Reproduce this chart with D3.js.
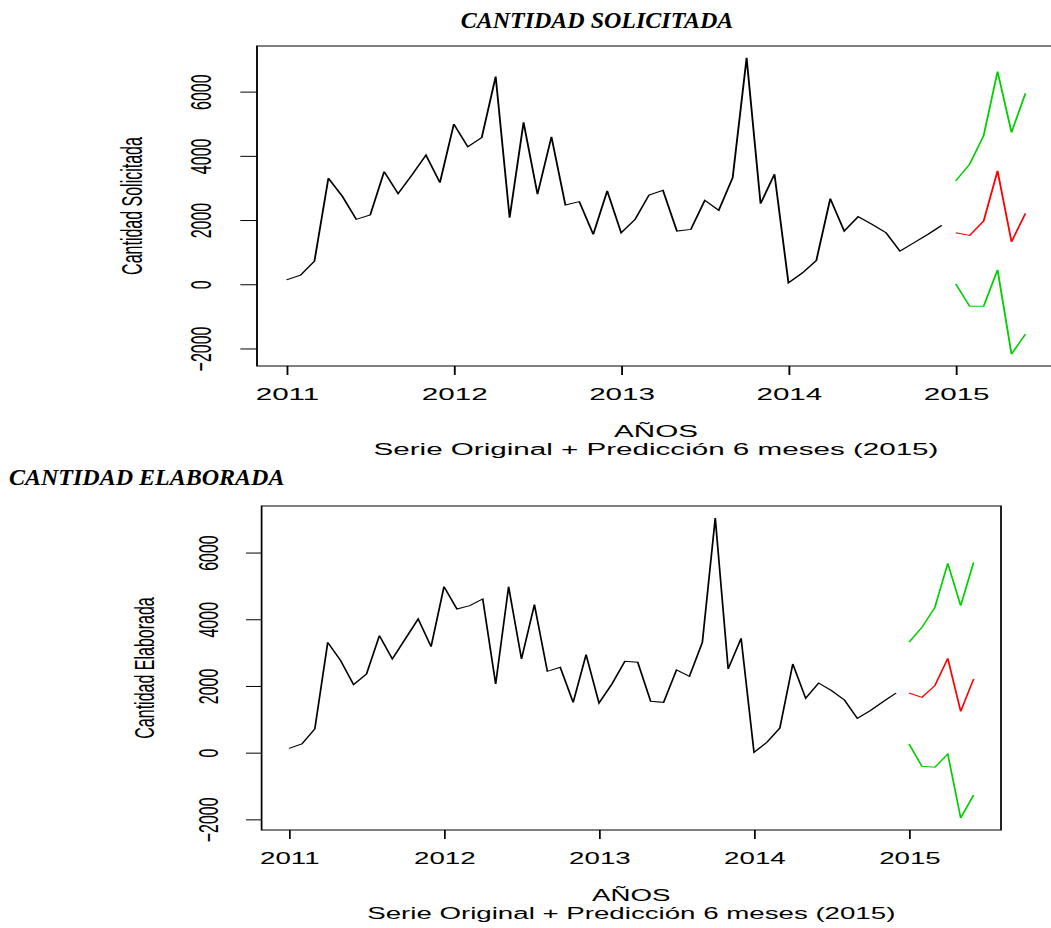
<!DOCTYPE html>
<html>
<head>
<meta charset="utf-8">
<script src="https://cdn.jsdelivr.net/npm/d3@7"></script>
<style>
  body { margin: 0; background: #fff; }
  svg { display: block; }
  .r text { font-family: Arial, "Liberation Sans", sans-serif; fill: #000; }
  .head { font-family: "Times New Roman", "Liberation Serif", serif; font-weight: bold; font-style: italic; font-size: 24px; }
</style>
</head>
<body>
<script>

// Monthly series Jan 2011 - Dec 2014, forecast Jan - Jun 2015
var solicitada = [135, 281, 719, 3302, 2740, 2021, 2156, 3510, 2823, 3406, 4020, 3167,
                  4990, 4281, 4573, 6469, 2073, 5042, 2802, 4594, 2469, 2573, 1552, 2906,
                  1604, 2021, 2781, 2927, 1656, 1708, 2615, 2302, 3323, 7052, 2510, 3427,
                  42, 354, 740, 2667, 1656, 2104, 1865, 1604, 1031, 1292, 1552, 1833];
var solicitadaPred = [1604, 1521, 1969, 3531, 1323, 2208],
    solicitadaUp   = [3219, 3740, 4625, 6625, 4729, 5948],
    solicitadaLow  = [10, -688, -688, 448, -2177, -1552];

var elaborada = [129, 260, 710, 3308, 2759, 2039, 2359, 3508, 2809, 3408, 4008, 3178,
                 4977, 4308, 4408, 4608, 2059, 4977, 2809, 4438, 2439, 2559, 1509, 2939,
                 1489, 2059, 2739, 2709, 1539, 1509, 2479, 2289, 3308, 7036, 2509, 3428,
                 10, 310, 740, 2659, 1629, 2089, 1859, 1579, 1029, 1259, 1529, 1789];
var elaboradaPred = [1789, 1659, 2009, 2829, 1239, 2209],
    elaboradaUp   = [3308, 3758, 4358, 5677, 4408, 5707],
    elaboradaLow  = [260, -409, -439, -40, -1959, -1269];

var startYear = 2011, predStart = 2015;
var yearTicks = [2011, 2012, 2013, 2014, 2015];
var yTicks = [-2000, 0, 2000, 4000, 6000];

var svg = d3.select('body').append('svg')
    .attr('width', 1051)
    .attr('height', 928);

// Word-style headings (not stretched)
svg.append('text').attr('class', 'head')
    .attr('x', 597).attr('y', 28).attr('text-anchor', 'middle')
    .text('CANTIDAD SOLICITADA');
svg.append('text').attr('class', 'head')
    .attr('x', 9).attr('y', 485)
    .text('CANTIDAD ELABORADA');

// One R-like plot; the original image is stretched horizontally by sx
function panel(o) {
    var sx = o.sx;
    var g = svg.append('g').attr('class', 'r')
        .attr('transform', 'scale(' + sx + ',1)');

    var t0 = startYear, t1 = predStart + (o.pred.length - 1) / 12;
    var tpad = (t1 - t0) * 0.04;
    var all = o.serie.concat(o.pred, o.up, o.low);
    var ext = d3.extent(all), ypad = (ext[1] - ext[0]) * 0.04;

    var x = d3.scaleLinear().domain([t0 - tpad, t1 + tpad]).range([o.left / sx, o.right / sx]);
    var y = d3.scaleLinear().domain([ext[0] - ypad, ext[1] + ypad]).range([o.bottom, o.top]);

    var line = function(start) {
        return d3.line()
            .x(function(d, i) { return x(start + i / 12); })
            .y(function(d) { return y(d); });
    };

    g.append('path').datum(o.serie).attr('d', line(startYear))
        .attr('fill', 'none').attr('stroke', '#000').attr('stroke-width', 1);
    g.append('path').datum(o.pred).attr('d', line(predStart))
        .attr('fill', 'none').attr('stroke', '#ff0000').attr('stroke-width', 1);
    [o.up, o.low].forEach(function(s) {
        g.append('path').datum(s).attr('d', line(predStart))
            .attr('fill', 'none').attr('stroke', '#00d000').attr('stroke-width', 1);
    });

    // Box
    g.append('rect')
        .attr('x', o.left / sx).attr('y', o.top)
        .attr('width', (o.right - o.left) / sx).attr('height', o.bottom - o.top)
        .attr('fill', 'none').attr('stroke', '#000').attr('stroke-width', 1);

    // X axis
    var xa = g.append('g').attr('transform', 'translate(0,' + o.bottom + ')')
        .call(d3.axisBottom(x).tickValues(yearTicks).tickSize(9).tickFormat(d3.format('d')));
    xa.select('.domain').remove();
    xa.selectAll('line').attr('stroke', '#000');
    xa.selectAll('text').attr('y', 34).attr('dy', null)
        .attr('font-size', 16).attr('font-family', null);

    // Y axis
    var ya = g.append('g').attr('transform', 'translate(' + (o.left / sx) + ',0)')
        .call(d3.axisLeft(y).tickValues(yTicks).tickSize(9).tickFormat(d3.format('d')));
    ya.select('.domain').remove();
    ya.selectAll('line').attr('stroke', '#000');
    ya.selectAll('text').attr('x', null).attr('dy', null)
        .attr('transform', 'translate(-25,0) rotate(-90)')
        .attr('text-anchor', 'middle')
        .attr('font-size', 16).attr('font-family', null);

    // Axis titles
    var cx = (o.left + o.right) / 2 / sx;
    g.append('text').attr('x', cx).attr('y', o.bottom + 71)
        .attr('text-anchor', 'middle').attr('font-size', 16).text('AÑOS');
    g.append('text').attr('x', cx).attr('y', o.bottom + 89)
        .attr('text-anchor', 'middle').attr('font-size', 16)
        .text('Serie Original + Predicción 6 meses (2015)');
    g.append('text')
        .attr('transform', 'translate(' + (o.left / sx - 62) + ',' + ((o.top + o.bottom) / 2) + ') rotate(-90)')
        .attr('text-anchor', 'middle').attr('font-size', 16).text(o.yTitle);
}

panel({
    serie: solicitada, pred: solicitadaPred, up: solicitadaUp, low: solicitadaLow,
    yTitle: 'Cantidad Solicitada',
    left: 257, right: 1055, top: 46, bottom: 366, sx: 1.85
});

panel({
    serie: elaborada, pred: elaboradaPred, up: elaboradaUp, low: elaboradaLow,
    yTitle: 'Cantidad Elaborada',
    left: 261.6, right: 1001, top: 506, bottom: 830, sx: 1.73
});

</script>
</body>
</html>
